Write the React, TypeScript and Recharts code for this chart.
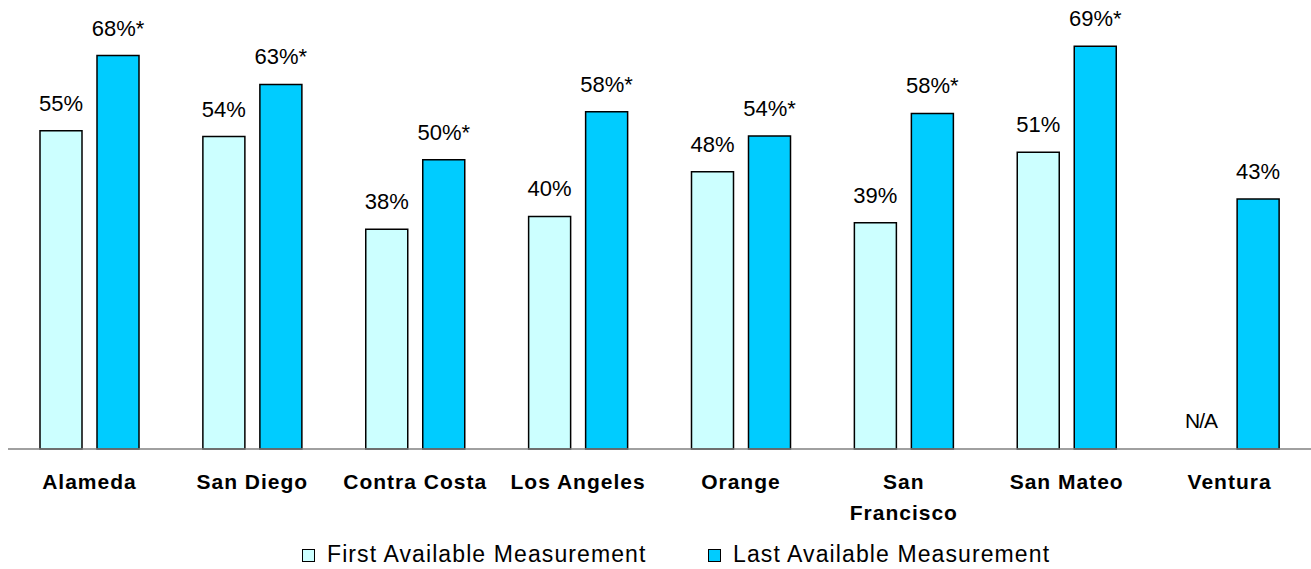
import React from 'react';
import { BarChart, Bar, XAxis, YAxis, Legend, LabelList, ReferenceDot } from 'recharts';

const categories = ['Alameda', 'San Diego', 'Contra Costa', 'Los Angeles', 'Orange', 'San\nFrancisco', 'San Mateo', 'Ventura'];
const firstValues: (number | null)[] = [55, 54, 38, 40.2, 47.9, 39.1, 51.3, null];
const lastValues = [68, 63, 50, 58.3, 54.1, 58, 69.6, 43.2];
const firstLabels = ['55%', '54%', '38%', '40%', '48%', '39%', '51%', 'N/A'];
const lastLabels = ['68%*', '63%*', '50%*', '58%*', '54%*', '58%*', '69%*', '43%'];

const FONT = '"Liberation Sans", Arial, sans-serif';
const LIGHT = '#CCFFFF';
const DARK = '#00CCFF';
const BAR_SIZE = 42;
const BAR_GAP = 15;

const data = categories.map((name, i) => ({
  name,
  first: firstValues[i],
  last: lastValues[i],
  firstLabel: firstLabels[i],
  lastLabel: lastLabels[i],
}));

// categories without a first measurement get an "N/A" marker in the first bar's slot
const missing = data.filter((d) => d.first == null);

const CategoryTick = (props: any) => {
  const { x, y, payload } = props;
  const lines = String(payload.value).split('\n');
  return (
    <text x={x} y={y} textAnchor="middle" fontFamily={FONT} fontSize={21} fontWeight="bold" letterSpacing={1} fill="#000">
      {lines.map((line, i) => (
        <tspan key={i} x={x} dy={i === 0 ? 40 : 31}>
          {line}
        </tspan>
      ))}
    </text>
  );
};

const renderBarLabel = (props: any) => {
  const { x, y, width, value } = props;
  return (
    <text x={x + width / 2} y={y - 20} textAnchor="middle" fontFamily={FONT} fontSize={22} fill="#000">
      {value}
    </text>
  );
};

const LegendBox = () => {
  const items = [
    { label: 'First Available Measurement', color: LIGHT },
    { label: 'Last Available Measurement', color: DARK },
  ];
  return (
    <div style={{ display: 'flex', paddingLeft: 302, height: 30 }}>
      {items.map((it) => (
        <div key={it.label} style={{ width: 406, display: 'flex', alignItems: 'baseline' }}>
          <span
            style={{
              display: 'inline-block',
              width: 13,
              height: 13,
              boxSizing: 'border-box',
              border: '1.5px solid #000',
              background: it.color,
              marginRight: 12,
            }}
          />
          <span style={{ fontFamily: FONT, fontSize: 23, lineHeight: '25px', letterSpacing: 1.1, color: '#000' }}>{it.label}</span>
        </div>
      ))}
    </div>
  );
};

export default function App() {
  return (
    <div style={{ position: 'absolute', left: 0, top: 0, width: 1311, height: 569, background: '#fff' }}>
      <BarChart
        width={1311}
        height={569}
        data={data}
        margin={{ top: 0, right: 0, left: 8, bottom: 60 }}
        barSize={BAR_SIZE}
        barGap={BAR_GAP}
      >
        <XAxis
          dataKey="name"
          height={30}
          tickLine={false}
          tickSize={0}
          tickMargin={0}
          axisLine={{ stroke: '#808080', strokeWidth: 1.5 }}
          tick={(p: any) => <CategoryTick {...p} />}
          interval={0}
        />
        <YAxis hide domain={[0, 77.6]} />
        <Legend
          content={() => <LegendBox />}
          wrapperStyle={{ position: 'absolute', top: 542, left: 0, bottom: 'auto', width: 1311 }}
        />
        <Bar dataKey="first" fill={LIGHT} stroke="#000" strokeWidth={1.5} isAnimationActive={false}>
          <LabelList dataKey="firstLabel" content={renderBarLabel} />
        </Bar>
        <Bar dataKey="last" fill={DARK} stroke="#000" strokeWidth={1.5} isAnimationActive={false}>
          <LabelList dataKey="lastLabel" content={renderBarLabel} />
        </Bar>
        {missing.map((d) => (
          <ReferenceDot
            key={d.name}
            x={d.name}
            y={0}
            ifOverflow="visible"
            shape={(p: any) => (
              <text
                x={p.cx - (BAR_SIZE + BAR_GAP) / 2}
                y={p.cy - 21}
                textAnchor="middle"
                fontFamily={FONT}
                fontSize={21}
                letterSpacing={-1}
                fill="#000"
              >
                {d.firstLabel}
              </text>
            )}
          />
        ))}
      </BarChart>
    </div>
  );
}
